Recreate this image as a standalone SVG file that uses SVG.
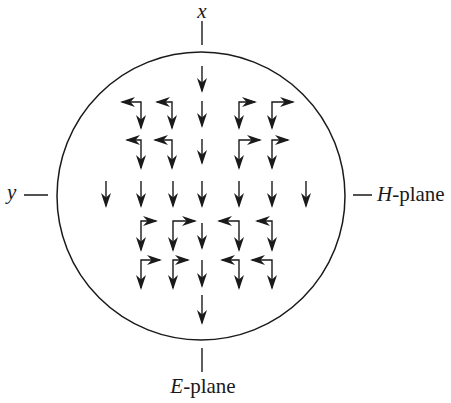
<svg xmlns="http://www.w3.org/2000/svg" width="451" height="403" viewBox="0 0 451 403">
<style>
.ln{fill:none;stroke:#1a1a1a;stroke-width:1.4}
.ar{fill:none;stroke:#1a1a1a;stroke-width:1.4;marker-end:url(#ah)}
.la{fill:none;stroke:#1a1a1a;stroke-width:1.4;marker-start:url(#ah);marker-end:url(#ah)}
.t{font-family:"Liberation Serif","Times New Roman",serif;font-size:21px;fill:#1a1a1a}
.i{font-style:italic}
</style>
<defs>
<marker id="ah" markerUnits="userSpaceOnUse" markerWidth="16" markerHeight="11" refX="13" refY="5" orient="auto-start-reverse" viewBox="0 0 16 11">
<path d="M0,0 L15,5 L0,10 L4.5,5 z" fill="#1a1a1a"/>
</marker>
</defs>
<rect width="451" height="403" fill="#fff"/>
<g id="aperture">
<circle cx="201" cy="196" r="144" fill="none" stroke="#1a1a1a" stroke-width="1.5"/>
</g>
<g id="axes">
<path class="ln" d="M202,21 V45 M24,195 H48 M353,195 H372 M202,348 V372"/>
<text class="t i" x="202" y="18" text-anchor="middle">x</text>
<text class="t i" x="7" y="199">y</text>
<text class="t" x="377" y="201"><tspan class="i">H</tspan>-plane</text>
<text class="t" x="203" y="393" text-anchor="middle"><tspan class="i">E</tspan>-plane</text>
</g>
<g id="field">
<path class="ar" d="M202,66 V91"/>
<path class="ar" d="M202,101 V126"/>
<path class="ar" d="M202,139 V163"/>
<path class="ar" d="M106,181 V206"/>
<path class="ar" d="M141,181 V206"/>
<path class="ar" d="M173,181 V206"/>
<path class="ar" d="M202,181 V206"/>
<path class="ar" d="M239,181 V206"/>
<path class="ar" d="M272,181 V206"/>
<path class="ar" d="M306,181 V206"/>
<path class="ar" d="M202,223 V248"/>
<path class="ar" d="M202,260 V286"/>
<path class="ar" d="M202,295 V323"/>
<path class="la" d="M122,102 H141 V128"/>
<path class="la" d="M157,102 H172 V128"/>
<path class="la" d="M255,102 H239 V128"/>
<path class="la" d="M293,102 H272 V128"/>
<path class="la" d="M127,140 H141 V168"/>
<path class="la" d="M155,140 H172 V168"/>
<path class="la" d="M260,140 H239 V168"/>
<path class="la" d="M288,140 H272 V168"/>
<path class="la" d="M156,221 H141 V250"/>
<path class="la" d="M195,221 H173 V250"/>
<path class="la" d="M219,221 H239 V250"/>
<path class="la" d="M257,221 H272 V250"/>
<path class="la" d="M160,260 H141 V288"/>
<path class="la" d="M188,260 H173 V288"/>
<path class="la" d="M222,260 H239 V288"/>
<path class="la" d="M252,260 H272 V288"/>
</g>
</svg>
